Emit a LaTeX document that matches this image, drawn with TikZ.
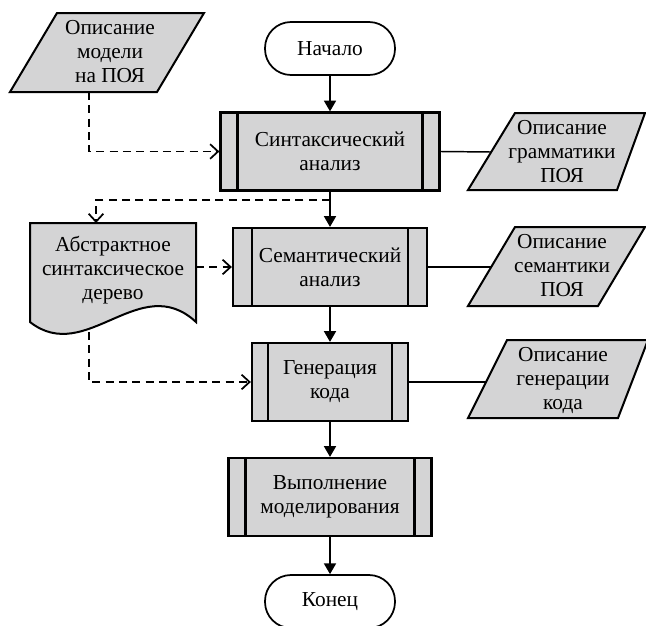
\documentclass[tikz,border=0pt]{standalone}
\usepackage{fontspec}
\setmainfont{Liberation Serif}
\usetikzlibrary{arrows.meta}
\definecolor{boxgray}{RGB}{212,212,213}
\begin{document}
\begin{tikzpicture}[x=0.75pt,y=-0.75pt,
 txt/.style={align=center,font=\fontsize{16}{18}\selectfont,inner sep=0pt},
 subr/.style={txt,draw,fill=boxgray,line width=1.7pt,minimum height=78*0.75pt,
   path picture={\draw[line width=1.6pt]
     ([xshift=#1*0.75pt]path picture bounding box.north west) -- ([xshift=#1*0.75pt]path picture bounding box.south west)
     ([xshift=-#1*0.75pt]path picture bounding box.north east) -- ([xshift=-#1*0.75pt]path picture bounding box.south east);}},
 term/.style={txt,draw,line width=1.3pt,minimum width=130*0.75pt,minimum height=53*0.75pt,rounded corners=19.5pt},
 shapeline/.style={draw,fill=boxgray,line width=1.5pt,line join=miter},
 arr/.style={line width=1.1pt,-{Triangle[length=8pt,width=9pt]}},
 plain/.style={line width=1.1pt},
 dasharr/.style={line width=1.1pt,dash pattern=on 6pt off 4pt,-{Straight Barb[length=6pt,width=11pt,line width=1.3pt]}}]
\path[use as bounding box,clip] (0,0) rectangle (646,625);
% terminals and processes
\node[term] (start) at (330,48.5) {Начало};
\node[subr=17,minimum width=219*0.75pt] (syn) at (330,151.5) {Синтаксический\\анализ};
\node[subr=19,minimum width=194*0.75pt] (sem) at (330,267) {Семантический\\анализ};
\node[subr=16,minimum width=156*0.75pt] (gen) at (330,382) {Генерация\\кода};
\node[subr=17,minimum width=203*0.75pt] (exe) at (330,497) {Выполнение\\моделирования};
\node[term] (end) at (330,601.5) {Конец};
% data shapes
\draw[shapeline] (57,13) -- (204,13) -- (157,92) -- (10,92) -- cycle;
\node[txt] (model) at (110,52) {Описание\\модели\\на ПОЯ};
\draw[shapeline] (515,113) -- (645,113) -- (617,190) -- (468,190) -- cycle;
\node[txt] (gram) at (562,152) {Описание\\грамматики\\ПОЯ};
\draw[shapeline] (515,227) -- (645,227) -- (598,306) -- (468,306) -- cycle;
\node[txt] (semd) at (562,266) {Описание\\семантики\\ПОЯ};
\draw[shapeline] (507,340) -- (648,340) -- (618,418) -- (468,418) -- cycle;
\node[txt] (gend) at (563,380) {Описание\\генерации\\кода};
\draw[shapeline] (30,223) -- (196,223) -- (196,322) .. controls (140,270) and (86,366) .. (30,322) -- cycle;
\node[txt] (ast) at (113,270) {Абстрактное\\синтаксическое\\дерево};
% connector points
\coordinate (modelB) at (89,92);
\coordinate (gramL) at (491,152);
\coordinate (semL) at (491,267);
\coordinate (genL) at (486,382);
\coordinate (astT) at (96,223);
\coordinate (astR) at (196,267);
\coordinate (astB) at (89,332);
\coordinate (j) at (330,200);
% connectors
\draw[arr] (start.south) -- (syn.north);
\draw[arr] (syn.south) -- (sem.north);
\draw[arr] (sem.south) -- (gen.north);
\draw[arr] (gen.south) -- (exe.north);
\draw[arr] (exe.south) -- (end.north);
\draw[plain] (syn.east) -- (gramL);
\draw[plain] (sem.east) -- (semL);
\draw[plain] (gen.east) -- (genL);
\draw[dasharr] (modelB) |- (syn.west);
\draw[dasharr] (j) -| (astT);
\draw[dasharr] (astR) -- (sem.west);
\draw[dasharr] (astB) |- (gen.west);
\end{tikzpicture}
\end{document}
